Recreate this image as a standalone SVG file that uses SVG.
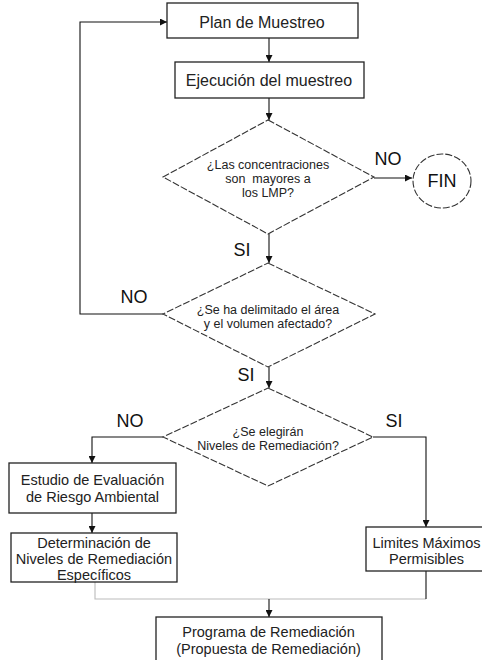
<svg xmlns="http://www.w3.org/2000/svg" width="482" height="660" viewBox="0 0 482 660">
<defs>
<marker id="ah" viewBox="0 0 8 8" refX="8" refY="4" markerWidth="7" markerHeight="7" markerUnits="userSpaceOnUse" orient="auto">
<path d="M0,0 L8,4 L0,8 z" fill="#111"/>
</marker>
<style>
.box{fill:#fff;stroke:#222;stroke-width:1.3}
.dia{fill:#fff;stroke:#333;stroke-width:1.1;stroke-dasharray:7 2}
.ln{fill:none;stroke:#111;stroke-width:1.1}
.lg{fill:none;stroke:#bbb;stroke-width:1.1}
text{font-family:"Liberation Sans",Arial,sans-serif;fill:#222;text-anchor:middle}
.t16{font-size:16px}
.t14{font-size:14.5px}
.t12{font-size:12.5px}
.lbl{font-size:18px;fill:#111}
</style>
</defs>
<rect width="482" height="660" fill="#fff"/>
<g id="connectors">
<path class="ln" d="M269,38 V62" marker-end="url(#ah)"/>
<path class="ln" d="M269,98 V120" marker-end="url(#ah)"/>
<path class="ln" d="M374,178 H412" marker-end="url(#ah)"/>
<path class="ln" d="M269,234 V263" marker-end="url(#ah)"/>
<path class="ln" d="M163,314 H80 V22 H167" marker-end="url(#ah)"/>
<path class="ln" d="M269,367 V388" marker-end="url(#ah)"/>
<path class="ln" d="M163,437 H92 V463" marker-end="url(#ah)"/>
<path class="ln" d="M92,513 V533" marker-end="url(#ah)"/>
<path class="ln" d="M373,437 H426 V527" marker-end="url(#ah)"/>
<path class="lg" d="M95,582 V599 H426"/>
<path class="ln" d="M426,571 V599"/>
<path class="ln" d="M269,599 V617" marker-end="url(#ah)"/>
</g>
<g id="labels">
<text class="lbl" x="388" y="165">NO</text>
<text class="lbl" x="242" y="256">SI</text>
<text class="lbl" x="134" y="303">NO</text>
<text class="lbl" x="246" y="381">SI</text>
<text class="lbl" x="130" y="427">NO</text>
<text class="lbl" x="394" y="427">SI</text>
</g>
<g id="plan">
<rect class="box" x="167" y="3" width="191" height="35"/>
<text class="t16" x="262" y="28">Plan de Muestreo</text>
</g>
<g id="ejecucion">
<rect class="box" x="175" y="62" width="189" height="36"/>
<text class="t16" x="269" y="86">Ejecución del muestreo</text>
</g>
<g id="decision1">
<polygon class="dia" points="268,120 374,177 268,234 163,177"/>
<text class="t12"><tspan x="268" y="169">¿Las concentraciones</tspan><tspan x="268" y="183">son&#160; mayores a</tspan><tspan x="268" y="197">los LMP?</tspan></text>
</g>
<g id="fin">
<ellipse class="dia" cx="442" cy="181" rx="29" ry="27"/>
<text class="lbl" x="442" y="187">FIN</text>
</g>
<g id="decision2">
<polygon class="dia" points="268,263 375,314 268,367 163,314"/>
<text class="t12"><tspan x="268" y="314">¿Se ha delimitado el área</tspan><tspan x="268" y="328">y el volumen afectado?</tspan></text>
</g>
<g id="decision3">
<polygon class="dia" points="268,388 373,437 268,486 163,437"/>
<text class="t12"><tspan x="268" y="436">¿Se elegirán</tspan><tspan x="268" y="450">Niveles de Remediación?</tspan></text>
</g>
<g id="estudio">
<rect class="box" x="9" y="463" width="167" height="50"/>
<text class="t14"><tspan x="92.5" y="485">Estudio de Evaluación</tspan><tspan x="92.5" y="502">de Riesgo Ambiental</tspan></text>
</g>
<g id="determinacion">
<rect class="box" x="11" y="533" width="166" height="49"/>
<text class="t14"><tspan x="94" y="548">Determinación de</tspan><tspan x="94" y="564">Niveles de Remediación</tspan><tspan x="94" y="580">Específicos</tspan></text>
</g>
<g id="limites">
<rect class="box" x="366" y="527" width="120" height="44"/>
<text class="t14"><tspan x="426.5" y="548">Limites Máximos</tspan><tspan x="426.5" y="564">Permisibles</tspan></text>
</g>
<g id="programa">
<rect class="box" x="156" y="617" width="226" height="46"/>
<text class="t14"><tspan x="268.5" y="637">Programa de Remediación</tspan><tspan x="268.5" y="654">(Propuesta de Remediación)</tspan></text>
</g>
</svg>
